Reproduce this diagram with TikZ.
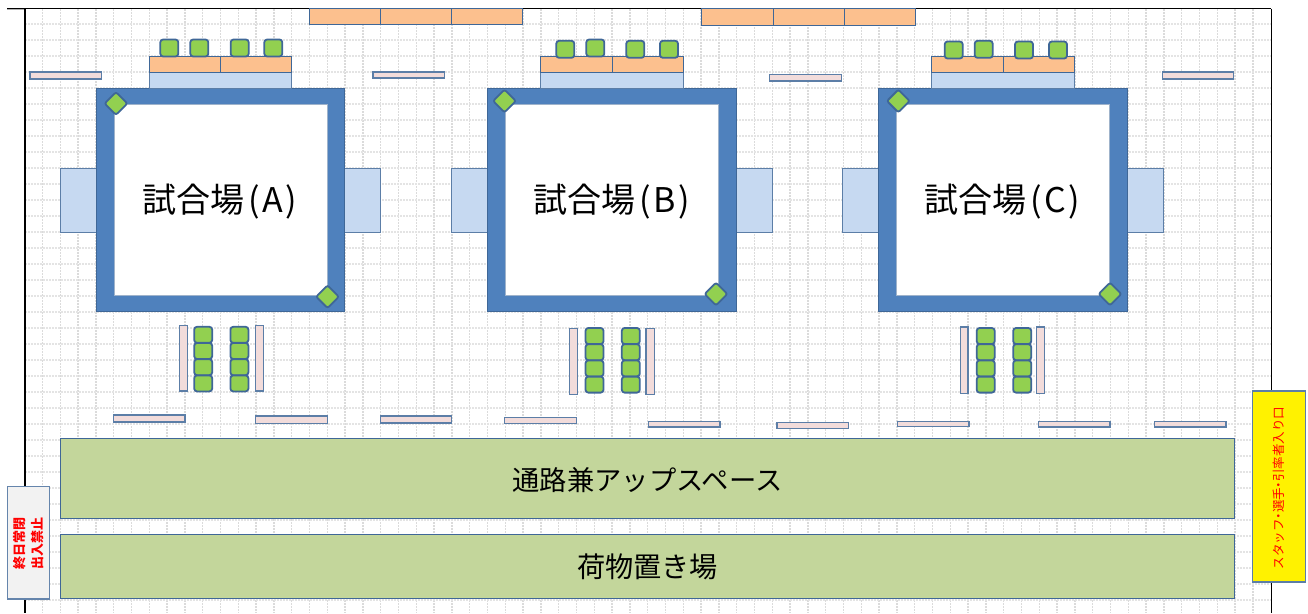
\documentclass[tikz,border=0pt]{standalone}
\usepackage{fontspec}
\setmainfont{Noto Sans CJK JP}
\definecolor{ring}{HTML}{4F81BD}
\definecolor{ringb}{HTML}{3F6797}
\definecolor{lblue}{HTML}{C6D9F1}
\definecolor{orng}{HTML}{FCC08E}
\definecolor{pinkb}{HTML}{F2DCDB}
\definecolor{seat}{HTML}{92D050}
\definecolor{olive}{HTML}{C3D69B}
\definecolor{gridc}{HTML}{E4E4E4}
\definecolor{gridv}{HTML}{DBDBDB}
\tikzset{
  gridline/.style={draw=gridc,line width=1.1pt,dash pattern=on 2.2pt off 0.8pt},
  gridvert/.style={draw=gridv,line width=1.4pt,dash pattern=on 2.2pt off 0.8pt},
  frame/.style={draw=black,line width=1.4pt},
  ringbox/.style={draw=ringb,fill=ring,line width=1pt},
  court/.style={draw=ringb!50,fill=white,line width=1pt},
  tablebox/.style={draw=ringb,fill=orng,line width=1pt},
  bluebox/.style={draw=ringb!85,fill=lblue,line width=1pt},
  bench/.style={draw=ringb!85,fill=pinkb,line width=1.1pt},
  seatbox/.style={draw=ringb,fill=seat,line width=1.8pt,rounded corners=2.8pt,minimum width=18pt,minimum height=16pt,inner sep=0pt},
  topseat/.style={seatbox,minimum height=17pt},
  diam/.style={draw=ringb,fill=seat,line width=1.8pt,rounded corners=2pt,minimum width=16pt,minimum height=16pt,inner sep=0pt,rotate=45},
  floorbox/.style={draw=ringb,fill=olive,line width=1pt},
  bigtext/.style={font=\fontsize{34pt}{36pt}\selectfont,text=black,inner sep=0pt},
  midtext/.style={font=\fontsize{27.3pt}{30pt}\selectfont,text=black,inner sep=0pt},
  lowtext/.style={font=\fontsize{28.2pt}{30pt}\selectfont,text=black,inner sep=0pt},
}
\newcommand{\rb}[5]{\draw[#1] (#2,#3) rectangle (#4,#5);}
\newcommand{\courtunit}[9]{%
  % #1 name, #2 ring left, #3 inner left, #4 table left, #5 side left, #6 tl x, #7 tl y, #8 br x, #9 br y
  \rb{bluebox}{#5}{168}{#5+36.5}{232}
  \rb{bluebox}{#2+248}{168}{#5+320.5}{232}
  \rb{ringbox}{#2}{88}{#2+248.8}{311.7}
  \rb{court}{#3}{104.3}{#3+213}{295}
  \rb{bluebox}{#4}{72}{#4+142.5}{88}
  \rb{tablebox}{#4}{56}{#4+71.3}{72}
  \rb{tablebox}{#4+71.3}{56}{#4+142.5}{72}
  \node[diam] (#1tl) at (#6,#7) {};
  \node[diam] (#1br) at (#8,#9) {};
}
\newcommand{\seatcol}[3]{%
  \node[seatbox] (#1a) at (#2,#3+8) {};
  \node[seatbox] (#1b) at (#2,#3+24.2) {};
  \node[seatbox] (#1c) at (#2,#3+40.4) {};
  \node[seatbox] (#1d) at (#2,#3+56.6) {};
}
\newcommand{\court}[1]{試合場\kern4pt(\kern2.5pt#1\kern2.5pt)}
\newcommand{\sdot}{\kern-3.2pt・\kern-3.2pt}
\begin{document}
\begin{tikzpicture}[x=1pt,y=-1pt]
\useasboundingbox (0,0) rectangle (1308,613);
% grid
\foreach \k in {1,...,69}{\draw[gridvert] ({24.7+17.8*\k},9) -- ({24.7+17.8*\k},613);}
\foreach \k in {1,...,37}{\draw[gridline] (25,{8+16*\k}) -- (1271,{8+16*\k});}
% frame
\draw[draw=black!30,line width=1pt] (7,9.6) -- (25,9.6);
\draw[frame] (7,8.5) -- (1271.3,8.5);
\draw[frame] (25,8.5) -- (25,613);
\draw[frame] (1271.3,8.5) -- (1271.3,613);
% top tables
\rb{tablebox}{309.3}{8.5}{380.5}{24.5}
\rb{tablebox}{380.5}{8.5}{451.7}{24.5}
\rb{tablebox}{451.7}{8.5}{522.9}{24.5}
\rb{tablebox}{701.7}{8.5}{773}{25}
\rb{tablebox}{773}{8.5}{844}{25}
\rb{tablebox}{844}{8.5}{915.3}{25}
% courts
\courtunit{a}{96}{114}{149.3}{60}{116}{103.5}{327.5}{296.7}
\courtunit{b}{487.5}{505.3}{540.8}{451.5}{504.5}{101}{716}{294}
\courtunit{c}{878.7}{896.7}{931.8}{842.8}{898.3}{101}{1110}{294}
% top seats
\node[topseat] (s1) at (169.3,48) {};
\node[topseat] (s2) at (199.3,48) {};
\node[topseat] (s3) at (239.7,48) {};
\node[topseat] (s4) at (273.3,48) {};
\node[topseat] (s5) at (565.3,49.3) {};
\node[topseat] (s6) at (595.3,48) {};
\node[topseat] (s7) at (635.3,49.3) {};
\node[topseat] (s8) at (669,49.3) {};
\node[topseat] (s9) at (953.7,50) {};
\node[topseat] (s10) at (983.7,49.3) {};
\node[topseat] (s11) at (1024,50) {};
\node[topseat] (s12) at (1058,50) {};
% seat columns
\seatcol{ca}{203.2}{326.8}
\seatcol{cb}{239.4}{326.8}
\seatcol{cc}{594.5}{328}
\seatcol{cd}{630.8}{328}
\seatcol{ce}{985.7}{328}
\seatcol{cf}{1022.2}{328}
% vertical benches
\rb{bench}{179.3}{325.3}{187.6}{391}
\rb{bench}{255.7}{325.3}{263.8}{391}
\rb{bench}{569.5}{328.5}{577.6}{394.3}
\rb{bench}{646}{328.5}{654.4}{394.3}
\rb{bench}{960.2}{327}{968}{393.6}
\rb{bench}{1036.2}{327}{1044.5}{393.6}
% horizontal benches
\rb{bench}{30}{72}{101.7}{79}
\rb{bench}{373}{72}{444.7}{78}
\rb{bench}{769.8}{74.5}{841.5}{81}
\rb{bench}{1162.5}{72}{1233.7}{79}
\rb{bench}{113.4}{415}{185}{422}
\rb{bench}{255.7}{416}{327.3}{423.3}
\rb{bench}{380.3}{416}{451.8}{423}
\rb{bench}{504.8}{417.3}{576.6}{423.4}
\rb{bench}{648.4}{421.7}{720}{427}
\rb{bench}{777}{422.7}{848.6}{428.7}
\rb{bench}{897.4}{421.7}{969}{426.8}
\rb{bench}{1038.4}{421.7}{1110}{427}
\rb{bench}{1154.4}{421.7}{1226}{427}
% floor
\rb{floorbox}{60}{438.7}{1234.3}{518.4}
\rb{floorbox}{60}{534.4}{1234.3}{598.4}
% side boxes
\rb{draw=ringb!80,fill=black!5,line width=1.1pt}{7.3}{486.7}{49.3}{599}
\rb{draw=ringb!85,fill=yellow,line width=1.1pt}{1252.2}{391}{1305.3}{582}
% text
\node[bigtext] (ta) at (220,202) {\court{A}};
\node[bigtext] (tb) at (611.5,202) {\court{B}};
\node[bigtext] (tc) at (1002.5,202) {\court{C}};
\node[midtext] (t1) at (647.5,480) {通路兼アップスペース};
\node[lowtext] (t2) at (647.5,567) {荷物置き場};
\node[rotate=90,text=red,font=\bfseries\fontsize{13pt}{17.5pt}\selectfont,align=center,inner sep=0pt] (t3) at (28.8,543) {終日常閉\\出入禁止};
\node[rotate=90,text=red,font=\fontsize{12.5pt}{14pt}\selectfont,inner sep=0pt] (t4) at (1279,488) {スタッフ\sdot 選手\sdot 引率者入り口};
\end{tikzpicture}
\end{document}
